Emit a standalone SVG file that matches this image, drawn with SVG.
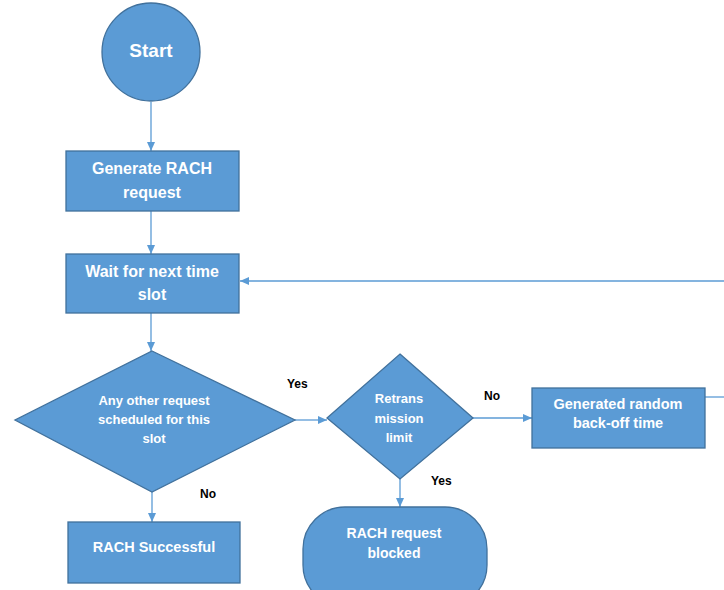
<svg xmlns="http://www.w3.org/2000/svg" width="724" height="590" viewBox="0 0 724 590">
  <style>
    .node { fill: #5B9BD5; stroke: #41719C; stroke-width: 1.3; }
    .lbl { font-family: "Liberation Sans", Arial, sans-serif; font-weight: bold; fill: #FFFFFF; text-anchor: middle; }
    .edge-lbl { font-family: "Liberation Sans", Arial, sans-serif; font-weight: bold; fill: #000000; font-size: 12px; }
    .edge { fill: none; stroke: #5B9BD5; stroke-width: 1.3; }
  </style>
  <defs>
    <marker id="arrow" markerUnits="userSpaceOnUse" markerWidth="10" markerHeight="10" viewBox="0 0 10 10" refX="9" refY="5" orient="auto">
      <path d="M0,1 L9,5 L0,9 Z" fill="#5B9BD5"/>
    </marker>
  </defs>
  <rect width="724" height="590" fill="#FFFFFF"/>

  <!-- connectors -->
  <g id="connectors">
    <line class="edge" x1="151" y1="102" x2="151" y2="151" marker-end="url(#arrow)"/>
    <line class="edge" x1="151" y1="211" x2="151" y2="254" marker-end="url(#arrow)"/>
    <line class="edge" x1="151" y1="313" x2="151" y2="351" marker-end="url(#arrow)"/>
    <line class="edge" x1="724" y1="281" x2="240" y2="281" marker-end="url(#arrow)"/>
    <line class="edge" x1="152" y1="492" x2="152" y2="522" marker-end="url(#arrow)"/>
    <line class="edge" x1="295" y1="420" x2="327" y2="420" marker-end="url(#arrow)"/>
    <line class="edge" x1="473" y1="418" x2="532" y2="418" marker-end="url(#arrow)"/>
    <line class="edge" x1="400" y1="479" x2="400" y2="507" marker-end="url(#arrow)"/>
    <line class="edge" x1="705" y1="397" x2="724" y2="397"/>
    <text class="edge-lbl" x="287" y="388">Yes</text>
    <text class="edge-lbl" x="200" y="498">No</text>
    <text class="edge-lbl" x="484" y="400">No</text>
    <text class="edge-lbl" x="431" y="485">Yes</text>
  </g>

  <g id="start">
    <circle class="node" cx="151" cy="52" r="49"/>
    <text class="lbl" x="151" y="57" font-size="19">Start</text>
  </g>

  <g id="generate">
    <rect class="node" x="66" y="151" width="173" height="60"/>
    <text class="lbl" x="152" y="174" font-size="16">Generate RACH</text>
    <text class="lbl" x="152" y="198" font-size="16">request</text>
  </g>

  <g id="wait">
    <rect class="node" x="66" y="254" width="173" height="59"/>
    <text class="lbl" x="152" y="277" font-size="16">Wait for next time</text>
    <text class="lbl" x="152" y="300" font-size="16">slot</text>
  </g>

  <g id="check-slot">
    <polygon class="node" points="152,351 295,420 152,492 15,420"/>
    <text class="lbl" x="154" y="405" font-size="13">Any other request</text>
    <text class="lbl" x="154" y="424" font-size="13">scheduled for this</text>
    <text class="lbl" x="154" y="443" font-size="13">slot</text>
  </g>

  <g id="success">
    <rect class="node" x="68" y="522" width="172" height="61"/>
    <text class="lbl" x="154" y="552" font-size="14.5">RACH Successful</text>
  </g>

  <g id="retrans">
    <polygon class="node" points="400,354 473,418 400,479 327,418"/>
    <text class="lbl" x="399" y="403" font-size="13">Retrans</text>
    <text class="lbl" x="399" y="423" font-size="13">mission</text>
    <text class="lbl" x="399" y="442" font-size="13">limit</text>
  </g>

  <g id="backoff">
    <rect class="node" x="532" y="388" width="173" height="60"/>
    <text class="lbl" x="618" y="409" font-size="14.5">Generated random</text>
    <text class="lbl" x="618" y="428" font-size="14.5">back-off time</text>
  </g>

  <g id="blocked">
    <rect class="node" x="303" y="507" width="184" height="100" rx="42" ry="42"/>
    <text class="lbl" x="394" y="538" font-size="14">RACH request</text>
    <text class="lbl" x="394" y="558" font-size="14">blocked</text>
  </g>
</svg>
